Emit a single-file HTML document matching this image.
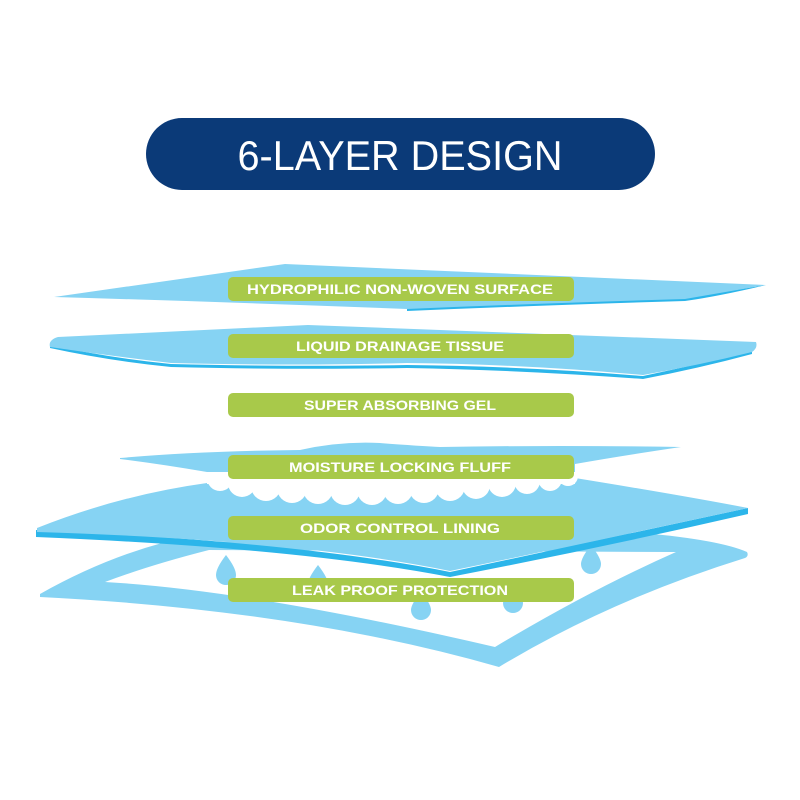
<!DOCTYPE html>
<html><head><meta charset="utf-8"><style>
html,body{margin:0;padding:0;background:#fff;width:800px;height:800px;overflow:hidden}
svg{display:block}
.lbl{font-family:"Liberation Sans",sans-serif;font-weight:bold;font-size:14px;fill:#fff}
</style></head><body>
<svg width="800" height="800" viewBox="0 0 800 800" xmlns="http://www.w3.org/2000/svg">
<rect width="800" height="800" fill="#fff"/>
<rect x="146" y="118" width="509" height="72" rx="36" fill="#0b3a78"/>
<text x="400" y="170" text-anchor="middle" font-family="Liberation Sans, sans-serif" font-size="42" fill="#fff" textLength="325" lengthAdjust="spacingAndGlyphs">6-LAYER DESIGN</text>

<!-- bottom frame -->
<path fill-rule="evenodd" fill="#86d3f3" d="M40,594 Q100,560 162,543 L643,533 Q720,540 747,552 Q749,556 745,558 Q610,600 499,667 Q300,610 40,597 Z
 M105,582 Q250,590 495,647 Q590,590 676,552 L209,550 Q150,565 105,582 Z"/>
<!-- droplets -->
<g fill="#86d3f3">
<path d="M226,555 Q216,568 216,575 A10,10 0 0 0 236,575 Q236,568 226,555Z"/>
<path d="M318,565 Q308,578 308,584 A10,10 0 0 0 328,584 Q328,578 318,565Z"/>
<path d="M421,592 Q411,604 411,610 A10,10 0 0 0 431,610 Q431,604 421,592Z"/>
<path d="M513,585 Q503,597 503,603 A10,10 0 0 0 523,603 Q523,597 513,585Z"/>
<path d="M591,545 Q581,558 581,564 A10,10 0 0 0 601,564 Q601,558 591,545Z"/>
</g>
<!-- odor lining -->
<path fill="#2cb5ea" d="M36,530 Q300,542 450,572 Q600,540 748,508 L748,514 Q600,548 450,577 Q300,548 36,537 Z"/>
<path fill="#86d3f3" d="M37,528 Q120,495 207,483 L575,478 Q680,495 748,508 Q600,540 450,571 Q300,540 37,532 Z"/>
<!-- white clouds -->
<g fill="#fff">
<rect x="207" y="468" width="368" height="16"/>
<circle cx="220" cy="478" r="13"/>
<circle cx="242" cy="483" r="14"/>
<circle cx="266" cy="486" r="15"/>
<circle cx="292" cy="488" r="15"/>
<circle cx="318" cy="489" r="15"/>
<circle cx="345" cy="490" r="15"/>
<circle cx="372" cy="490" r="15"/>
<circle cx="398" cy="489" r="15"/>
<circle cx="424" cy="488" r="15"/>
<circle cx="450" cy="486" r="15"/>
<circle cx="476" cy="485" r="14"/>
<circle cx="502" cy="483" r="14"/>
<circle cx="527" cy="481" r="13"/>
<circle cx="550" cy="479" r="12"/>
<circle cx="568" cy="476" r="10"/>
</g>
<!-- fluff band -->
<path fill="#86d3f3" d="M120,458 Q200,451 300,450 Q340,441 380,443 Q420,446 440,447 Q560,445 681,447 Q620,456 575,464 L575,472 L207,472 Q160,464 120,459Z"/>
<!-- layer 2 -->
<path fill="#2cb5ea" d="M50,345 Q110,358 171,364 Q300,367 407,365 Q520,366 643,376 Q700,364 752,351 L752,354 Q700,368 643,379 Q520,370 407,368 Q300,370 171,367 Q110,361 50,348Z"/>
<path fill="#86d3f3" d="M58,337 L308,325 L756,342 Q758,348 752,352 Q700,365 643,375 Q520,364 407,363 Q300,366 171,363 Q110,356 50,347 Q48,340 58,337Z"/>
<!-- layer 1 -->
<path fill="#2cb5ea" d="M407,308 Q550,302 685,298 L766,285 Q720,296 685,301 Q550,305 407,311 Z"/>
<path fill="#86d3f3" d="M54,297 L285,264 L766,285 L685,299 Q550,303 407,309 Q230,302 54,297Z"/>

<g fill="#a8c94a">
<rect x="228" y="277" width="346" height="24" rx="5"/>
<rect x="228" y="334" width="346" height="24" rx="5"/>
<rect x="228" y="393" width="346" height="24" rx="5"/>
<rect x="228" y="455" width="346" height="24" rx="5"/>
<rect x="228" y="516" width="346" height="24" rx="5"/>
<rect x="228" y="578" width="346" height="24" rx="5"/>
</g>
<text class="lbl" x="400" y="294" text-anchor="middle" textLength="306" lengthAdjust="spacingAndGlyphs">HYDROPHILIC NON-WOVEN SURFACE</text>
<text class="lbl" x="400" y="351" text-anchor="middle" textLength="208" lengthAdjust="spacingAndGlyphs">LIQUID DRAINAGE TISSUE</text>
<text class="lbl" x="400" y="410" text-anchor="middle" textLength="192" lengthAdjust="spacingAndGlyphs">SUPER ABSORBING GEL</text>
<text class="lbl" x="400" y="472" text-anchor="middle" textLength="222" lengthAdjust="spacingAndGlyphs">MOISTURE LOCKING FLUFF</text>
<text class="lbl" x="400" y="533" text-anchor="middle" textLength="200" lengthAdjust="spacingAndGlyphs">ODOR CONTROL LINING</text>
<text class="lbl" x="400" y="595" text-anchor="middle" textLength="216" lengthAdjust="spacingAndGlyphs">LEAK PROOF PROTECTION</text>
</svg>
</body></html>
